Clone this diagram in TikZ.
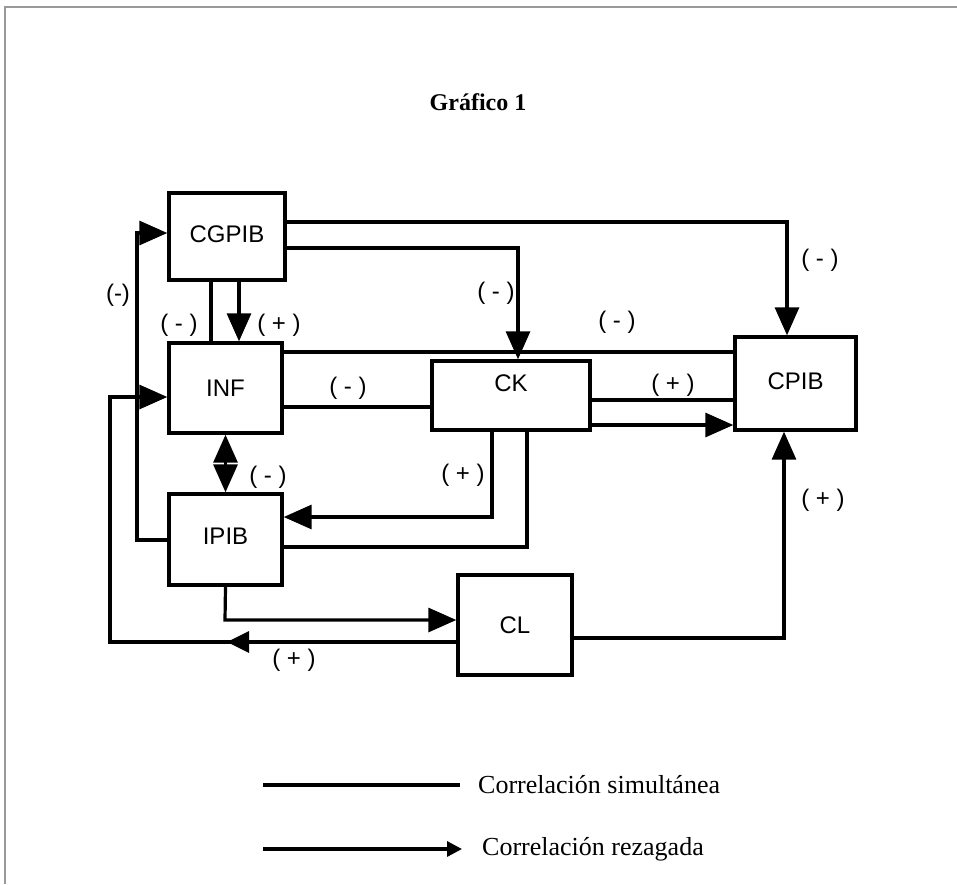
\documentclass[tikz,border=0pt]{standalone}
\usepackage{fontspec}
\setmainfont{Liberation Serif}
\newfontfamily\boxfont{Liberation Sans}
\usetikzlibrary{arrows.meta}
\tikzset{
  box/.style={draw, line width=3.4pt, rectangle, inner sep=0pt,
    font=\boxfont\fontsize{24}{26}\selectfont, text height=17.2pt, text depth=0pt},
  conn/.style={line width=3.2pt, line join=miter},
  arr/.style={conn, -{Triangle[length=28pt,width=24pt]}},
  sign/.style={font=\boxfont\fontsize{24}{26}\selectfont, inner sep=0pt},
  legtext/.style={font=\fontsize{26}{30}\selectfont, anchor=west, inner sep=0pt}
}
\begin{document}
\begin{tikzpicture}[x=1pt,y=-1pt]
\useasboundingbox (0,0) rectangle (957,884);
% frame
\coordinate (fTL) at (5,7);
\coordinate (fTR) at (957,7);
\coordinate (fBL) at (5,884);
\draw[gray!80, line width=1.6pt] (fBL) -- (fTL) -- (fTR);

% title
\node[font=\bfseries\fontsize{24}{28}\selectfont] (title) at (478,102) {Gráfico 1};

% boxes
\node[box, minimum width=116pt, minimum height=87pt, text depth=6pt] (CGPIB) at (227,236.5) {CGPIB};
\node[box, minimum width=113pt, minimum height=90pt] (INF) at (225.5,388) {INF};
\node[box, minimum width=113pt, minimum height=91pt, text depth=8pt] (IPIB) at (225.5,539.5) {IPIB};
\node[box, minimum width=158pt, minimum height=69pt, text depth=26pt] (CK) at (511,395.5) {CK};
\node[box, minimum width=121pt, minimum height=93pt, text depth=5pt] (CPIB) at (795.5,383.5) {CPIB};
\node[box, minimum width=114pt, minimum height=100pt] (CL) at (515,625) {CL};

% route points
\coordinate (p1) at (787,222);
\coordinate (p2) at (518,248);
\coordinate (x3) at (211,0);
\coordinate (x4) at (239,0);
\coordinate (y5) at (0,352);
\coordinate (y6) at (0,407);
\coordinate (y7) at (0,400);
\coordinate (y8) at (0,425);
\coordinate (p10) at (492,517);
\coordinate (p11) at (527,547);
\coordinate (p12a) at (137,540);
\coordinate (p12b) at (137,233);
\coordinate (p13) at (225,620);
\coordinate (y14) at (0,642);
\coordinate (p14a) at (110,642);
\coordinate (p14b) at (110,397);
\coordinate (m14a) at (250,642);
\coordinate (m14b) at (227,642);
\coordinate (p15) at (784,638);

% connectors
\draw[arr] (CGPIB.east |- p1) -- (p1) -- (CPIB.north -| p1);
\draw[arr] (CGPIB.east |- p2) -- (p2) -- (CK.north -| p2);
\draw[conn] (CGPIB.south -| x3) -- (INF.north -| x3);
\draw[arr] (CGPIB.south -| x4) -- (INF.north -| x4);
\draw[conn] (INF.east |- y5) -- (CPIB.west |- y5);
\draw[conn] (INF.east |- y6) -- (CK.west |- y6);
\draw[conn] (CK.east |- y7) -- (CPIB.west |- y7);
\draw[arr] (CK.east |- y8) -- (CPIB.west |- y8);
\draw[conn, {Triangle[length=28pt,width=24pt]}-{Triangle[length=28pt,width=24pt]}] (INF.south) -- (IPIB.north);
\draw[arr] (CK.south -| p10) -- (p10) -- (IPIB.east |- p10);
\draw[conn] (CK.south -| p11) -- (p11) -- (IPIB.east |- p11);
\draw[arr] (IPIB.west |- p12a) -- (p12a) -- (p12b) -- (CGPIB.west |- p12b);
\draw[arr] (IPIB.south) -- (p13) -- (CL.west |- p13);
\draw[arr] (CL.west |- y14) -- (p14a) -- (p14b) -- (INF.west |- p14b);
\draw[conn, -{Triangle[length=22pt,width=21pt]}] (m14a) -- (m14b);
\draw[arr] (CL.east |- p15) -- (p15) -- (CPIB.south -| p15);

% signs
\node[sign] (s1) at (820,260) {( - )};
\node[sign] (s2) at (496,293) {( - )};
\node[sign] (s3) at (179,325) {( - )};
\node[sign] (s4) at (279,325) {( + )};
\node[sign] (s5) at (617,322) {( - )};
\node[sign] (s6) at (348,388) {( - )};
\node[sign] (s7) at (673,385) {( + )};
\node[sign] (s8) at (268,477) {( - )};
\node[sign] (s9) at (463,475) {( + )};
\node[sign] (s10) at (118,295) {(-)};
\node[sign] (s11) at (294,660) {( + )};
\node[sign] (s12) at (823,500) {( + )};

% legend
\coordinate (l1a) at (263,785);
\coordinate (l1b) at (460,785);
\coordinate (l2a) at (263,849);
\coordinate (l2b) at (462,849);
\draw[conn] (l1a) -- (l1b);
\draw[conn, -{Triangle[length=15pt,width=15pt]}] (l2a) -- (l2b);
\node[legtext] (t1) at (478,785) {Correlación simultánea};
\node[legtext] (t2) at (482,849) {Correlación rezagada};
\end{tikzpicture}
\end{document}
